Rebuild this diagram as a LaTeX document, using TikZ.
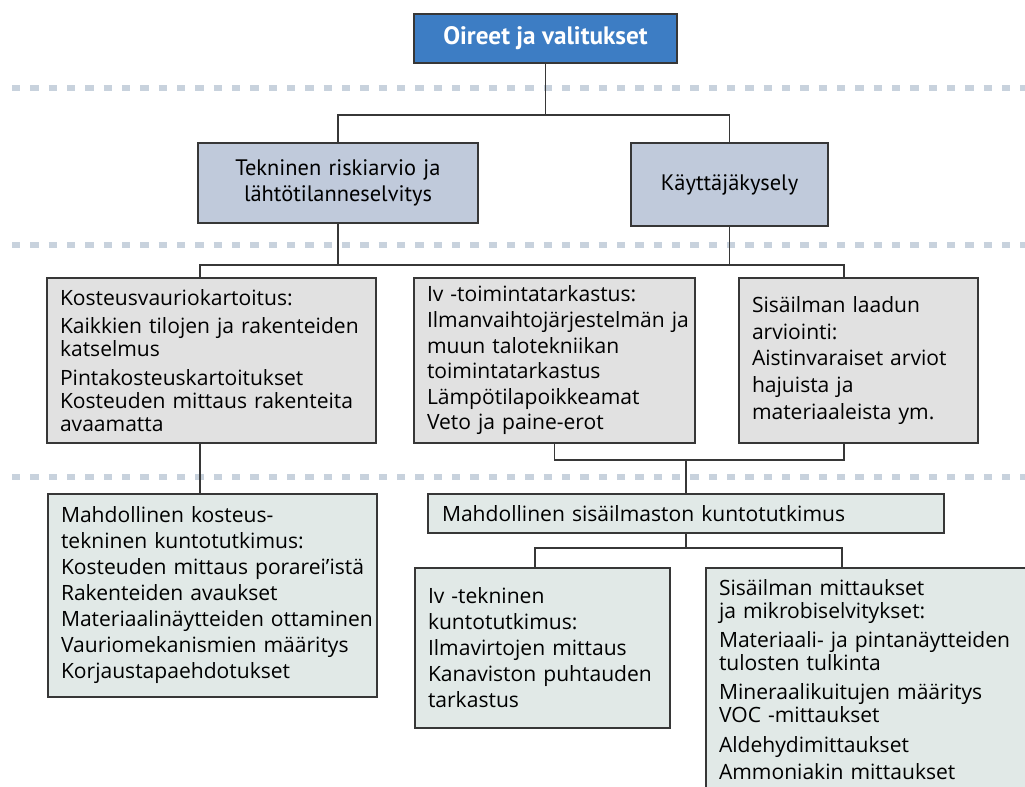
\documentclass[tikz,border=0pt]{standalone}
\usepackage{fontspec}
\setmainfont{PT Sans}
\newfontfamily\bodyfont{Open Sans}
\usetikzlibrary{positioning,calc}

\definecolor{topblue}{RGB}{61,125,196}
\definecolor{levtwo}{RGB}{192,202,219}
\definecolor{levthree}{RGB}{225,225,225}
\definecolor{levfour}{RGB}{225,233,231}
\definecolor{dotline}{RGB}{200,210,221}
\definecolor{boxline}{RGB}{55,55,55}

\newdimen\px \px=0.75pt

\begin{document}
\begin{tikzpicture}[x=0.75pt,y=-0.75pt,
		every node/.style={font=\fontsize{16.8}{19.5}\selectfont},
		box/.style={draw=boxline,line width=1.1pt,rectangle,outer sep=0pt,anchor=north west,align=left,inner xsep=13\px,inner ysep=0pt},
		conn/.style={draw=boxline,line width=1.1pt},
		sep/.style={draw=dotline,line width=5pt,dash pattern=on 6.25pt off 7.5pt}]
	\clip (0,0) rectangle (1025,787);

	% dotted level separators
	\foreach \yy in {88,245,477}
		\draw[sep] (12,\yy) -- (1030,\yy);

	% level 1
	\node[box,fill=topblue,align=center,minimum width=263\px,minimum height=49\px,
		font=\fontsize{18.9}{22}\selectfont\bfseries,text=white] (oireet) at (414,14) {Oireet ja valitukset};

	% level 2
	\node[box,fill=levtwo,align=center,minimum width=280\px,minimum height=80\px,text width=254\px] (tekn) at (198,143)
		{Tekninen riskiarvio ja\\ lähtötilanneselvitys};
	\node[box,fill=levtwo,align=center,minimum width=197\px,minimum height=83\px,text width=171\px] (kayt) at (631,143)
		{Käyttäjäkysely};

	% level 3
	\node[box,fill=levthree,minimum width=329\px,minimum height=165\px,text width=303\px,
		font=\bodyfont\fontsize{15.8}{17.25}\selectfont] (kost) at (47,278)
		{Kosteusvauriokartoitus:\\[4pt]
		 \mbox{Kaikkien tilojen ja rakenteiden}\\ katselmus\\[4.5pt]
		 Pintakosteuskartoitukset\\ Kosteuden mittaus rakenteita\\ avaamatta};
	\node[box,fill=levthree,minimum width=281\px,minimum height=165\px,text width=255\px,
		font=\bodyfont\fontsize{15.8}{19.2}\selectfont] (ivtoim) at (414,278)
		{Iv -toimintatarkastus:\\ \mbox{Ilmanvaihtojärjestelmän ja}\\ muun talotekniikan\\
		 toimintatarkastus\\ Lämpötilapoikkeamat\\ Veto ja paine-erot};
	\node[box,fill=levthree,minimum width=239\px,minimum height=165\px,text width=213\px,
		font=\bodyfont\fontsize{15.8}{19.9}\selectfont] (laatu) at (739,278)
		{Sisäilman laadun\\ arviointi:\\ Aistinvaraiset arviot\\ hajuista ja\\ materiaaleista ym.};

	% level 4
	\node[box,fill=levfour,minimum width=329\px,minimum height=203\px,text width=303\px,
		font=\bodyfont\fontsize{15.8}{19.5}\selectfont] (kostek) at (48,494)
		{Mahdollinen kosteus-\\ tekninen kuntotutkimus:\\ \mbox{Kosteuden mittaus porarei’istä}\\
		 Rakenteiden avaukset\\ \mbox{Materiaalinäytteiden ottaminen}\\ Vauriomekanismien määritys\\
		 Korjaustapaehdotukset};
	\node[box,fill=levfour,minimum width=516\px,minimum height=39\px,text width=488\px,inner xsep=14\px,
		font=\bodyfont\fontsize{15.8}{19.5}\selectfont] (sisk) at (428,494)
		{Mahdollinen sisäilmaston kuntotutkimus};

	% level 5
	\node[box,fill=levfour,minimum width=255\px,minimum height=160\px,text width=229\px,
		font=\bodyfont\fontsize{15.8}{19.5}\selectfont] (ivtek) at (415,568)
		{Iv -tekninen\\ kuntotutkimus:\\ Ilmavirtojen mittaus\\ Kanaviston puhtauden\\ tarkastus};
	\node[box,fill=levfour,minimum width=340\px,text width=314\px,inner ysep=11\px,
		font=\bodyfont\fontsize{15.8}{17.25}\selectfont] (mitt) at (706,568)
		{Sisäilman mittaukset\\ ja mikrobiselvitykset:\\[5pt]
		 Materiaali- ja pintanäytteiden\\ tulosten tulkinta\\[4.5pt]
		 Mineraalikuitujen määritys\\ VOC -mittaukset\\[5pt]
		 Aldehydimittaukset\\[3pt] Ammoniakin mittaukset\\[12pt]};

	% junction points
	\coordinate (busa) at (0,115);
	\coordinate (busb) at (0,265);
	\coordinate (busc) at (0,460);
	\coordinate (busd) at (0,548);
	\coordinate (dropl) at (200,0);
	\coordinate (dropr) at (844,0);
	\coordinate (dropi) at (535,0);
	\coordinate (dropm) at (842,0);

	% connectors
	\draw[conn] (oireet.south) -- (oireet.south |- busa);
	\draw[conn] (tekn.north) |- (oireet.south |- busa) -| (kayt.north);
	\draw[conn] (tekn.south) -- (tekn.south |- busb);
	\draw[conn] (kayt.south) -- (kayt.south |- busb);
	\draw[conn] (kost.north -| dropl) -- (busb -| dropl) -- (busb -| dropr) -- (laatu.north -| dropr);
	\draw[conn] (kost.south -| dropl) -- (kostek.north -| dropl);
	\draw[conn] (ivtoim.south) |- (busc -| dropr) -- (laatu.south -| dropr);
	\draw[conn] (sisk.north) -- (sisk.north |- busc);
	\draw[conn] (sisk.south) -- (sisk.south |- busd);
	\draw[conn] (ivtek.north -| dropi) -- (busd -| dropi) -- (busd -| dropm) -- (mitt.north -| dropm);
\end{tikzpicture}
\end{document}
